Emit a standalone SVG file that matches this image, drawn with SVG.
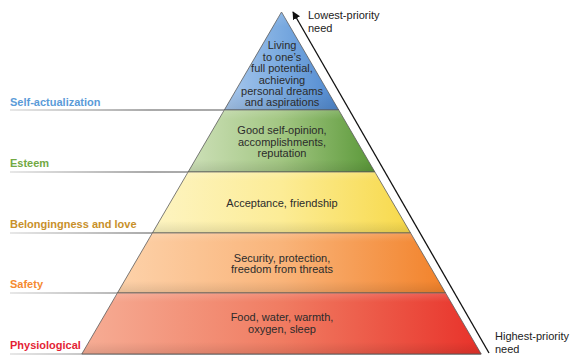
<svg xmlns="http://www.w3.org/2000/svg" width="571" height="360" viewBox="0 0 571 360">
  <defs>
    <style>
      .lvl { font-family: "Liberation Sans", Arial, sans-serif; font-size: 11px; font-weight: bold; }
      .txt { font-family: "Liberation Sans", Arial, sans-serif; font-size: 11px; fill: #2b2b2b; text-anchor: middle; }
      .side { font-family: "Liberation Sans", Arial, sans-serif; font-size: 11px; fill: #222; }
      .tier { stroke: #5a5a5a; stroke-width: 0.8; }
      .rule { stroke: url(#ruleGrad); stroke-width: 1.2; fill: none; }
      .shade { fill: url(#shadeGrad); stroke: none; }
      .conn { stroke: #111; stroke-width: 1.3; fill: none; }
    </style>
    <linearGradient id="blueGrad" x1="0" y1="0" x2="1" y2="0">
      <stop offset="0" stop-color="#a9c8ec"/>
      <stop offset="0.5" stop-color="#7aaae0"/>
      <stop offset="1" stop-color="#4f88cf"/>
    </linearGradient>
    <linearGradient id="greenGrad" x1="0" y1="0" x2="1" y2="0">
      <stop offset="0" stop-color="#cde0b8"/>
      <stop offset="0.5" stop-color="#a2c682"/>
      <stop offset="1" stop-color="#5a9838"/>
    </linearGradient>
    <linearGradient id="yellowGrad" x1="0" y1="0" x2="1" y2="0">
      <stop offset="0" stop-color="#fdf4c2"/>
      <stop offset="0.5" stop-color="#fcec96"/>
      <stop offset="1" stop-color="#f7d94a"/>
    </linearGradient>
    <linearGradient id="orangeGrad" x1="0" y1="0" x2="1" y2="0">
      <stop offset="0" stop-color="#fdd2aa"/>
      <stop offset="0.5" stop-color="#f9b47a"/>
      <stop offset="1" stop-color="#f2822a"/>
    </linearGradient>
    <linearGradient id="redGrad" x1="0" y1="0" x2="1" y2="0">
      <stop offset="0" stop-color="#f6ad95"/>
      <stop offset="0.5" stop-color="#f07c62"/>
      <stop offset="1" stop-color="#e8322a"/>
    </linearGradient>
    <linearGradient id="shadeGrad" x1="0" y1="0" x2="0" y2="1">
      <stop offset="0" stop-color="#ffffff" stop-opacity="0.15"/>
      <stop offset="0.15" stop-color="#ffffff" stop-opacity="0"/>
      <stop offset="0.8" stop-color="#000000" stop-opacity="0"/>
      <stop offset="1" stop-color="#000000" stop-opacity="0.1"/>
    </linearGradient>
    <linearGradient id="ruleGrad" gradientUnits="userSpaceOnUse" x1="10" y1="0" x2="150" y2="0">
      <stop offset="0" stop-color="#d0d0d0"/>
      <stop offset="1" stop-color="#555555"/>
    </linearGradient>
    <marker id="arrowHead" viewBox="0 0 10 10" refX="9" refY="5" markerWidth="8" markerHeight="8" markerUnits="userSpaceOnUse" orient="auto">
      <path d="M0,0 L10,5 L0,10 Z" fill="#111"/>
    </marker>
  </defs>

  <rect width="571" height="360" fill="#ffffff"/>

  <!-- guide rules from the level names to the tiers -->
  <g id="rules">
    <line class="rule" x1="10" y1="110" x2="224.3" y2="110"/>
    <line class="rule" x1="10" y1="172" x2="188.1" y2="172"/>
    <line class="rule" x1="10" y1="233" x2="152.4" y2="233"/>
    <line class="rule" x1="10" y1="293" x2="117.4" y2="293"/>
    <line class="rule" x1="10" y1="354" x2="481.2" y2="354"/>
  </g>

  <!-- tiers, top to bottom -->
  <g id="self-actualization">
    <polygon class="tier" fill="url(#blueGrad)" points="281.5,12 338.7,110 224.3,110"/>
    <polygon class="shade" points="281.5,12 338.7,110 224.3,110"/>
    <text class="txt" x="282" y="49">Living</text>
    <text class="txt" x="282" y="61">to one’s</text>
    <text class="txt" x="282" y="72">full potential,</text>
    <text class="txt" x="282" y="84">achieving</text>
    <text class="txt" x="282" y="95">personal dreams</text>
    <text class="txt" x="282" y="106">and aspirations</text>
    <text class="lvl" x="10" y="106" fill="#5b9bd8">Self-actualization</text>
  </g>

  <g id="esteem">
    <polygon class="tier" fill="url(#greenGrad)" points="224.3,110 338.7,110 374.9,172 188.1,172"/>
    <polygon class="shade" points="224.3,110 338.7,110 374.9,172 188.1,172"/>
    <text class="txt" x="282" y="134">Good self-opinion,</text>
    <text class="txt" x="282" y="146">accomplishments,</text>
    <text class="txt" x="282" y="157">reputation</text>
    <text class="lvl" x="10" y="167" fill="#72a943">Esteem</text>
  </g>

  <g id="belongingness">
    <polygon class="tier" fill="url(#yellowGrad)" points="188.1,172 374.9,172 410.6,233 152.4,233"/>
    <polygon class="shade" points="188.1,172 374.9,172 410.6,233 152.4,233"/>
    <text class="txt" x="282" y="207">Acceptance, friendship</text>
    <text class="lvl" x="10" y="228" fill="#c8902a">Belongingness and love</text>
  </g>

  <g id="safety">
    <polygon class="tier" fill="url(#orangeGrad)" points="152.4,233 410.6,233 445.6,293 117.4,293"/>
    <polygon class="shade" points="152.4,233 410.6,233 445.6,293 117.4,293"/>
    <text class="txt" x="282" y="262">Security, protection,</text>
    <text class="txt" x="282" y="273">freedom from threats</text>
    <text class="lvl" x="10" y="288" fill="#f58a30">Safety</text>
  </g>

  <g id="physiological">
    <polygon class="tier" fill="url(#redGrad)" points="117.4,293 445.6,293 481.2,354 81.8,354"/>
    <polygon class="shade" points="117.4,293 445.6,293 481.2,354 81.8,354"/>
    <text class="txt" x="282" y="321">Food, water, warmth,</text>
    <text class="txt" x="282" y="333">oxygen, sleep</text>
    <text class="lvl" x="10" y="349" fill="#e41f35">Physiological</text>
  </g>

  <!-- priority axis -->
  <g id="connectors">
    <line class="conn" x1="489" y1="353" x2="293" y2="12" marker-end="url(#arrowHead)"/>
  </g>

  <g id="priority-labels">
    <text class="side" x="308" y="19">Lowest-priority</text>
    <text class="side" x="308" y="32">need</text>
    <text class="side" x="495" y="340">Highest-priority</text>
    <text class="side" x="495" y="353">need</text>
  </g>
</svg>
